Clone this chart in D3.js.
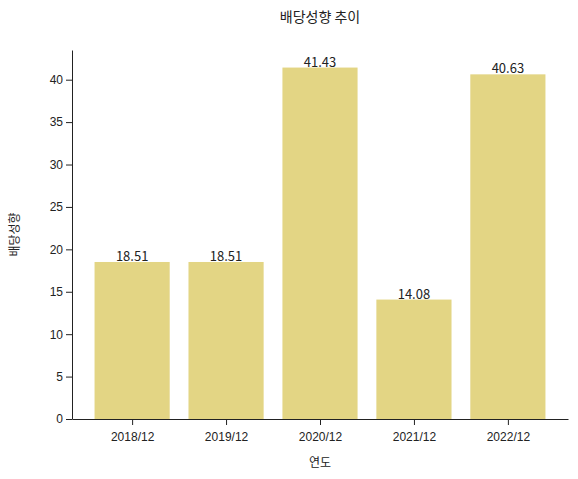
<!DOCTYPE html>
<html>
<head>
  <meta charset="utf-8">
  <script src="https://d3js.org/d3.v7.min.js"></script>
  <style>
    body { margin: 0; background: #fff; }
    svg { display: block; font-family: "Noto Sans CJK KR", "Noto Sans", sans-serif; }
  </style>
</head>
<body>
  <svg width="578" height="479"></svg>
  <script>
    const years = ["2018/12", "2019/12", "2020/12", "2021/12", "2022/12"];
    const payout = [18.51, 18.51, 41.43, 14.08, 40.63];
    const yTicks = [0, 5, 10, 15, 20, 25, 30, 35, 40];

    const svg = d3.select("svg");
    const mLeft = 72, mRight = 568, mTop = 50, mBottom = 419;

    // matplotlib 스타일 위치: 막대 폭 0.8
    const x = d3.scaleLinear().domain([-0.64, 4.64]).range([mLeft, mRight]);
    const y = d3.scaleLinear().domain([0, 43.5]).range([mBottom, mTop]);
    const bw = x(0.8) - x(0);

    svg.append("g").selectAll("rect").data(payout).join("rect")
      .attr("x", (d, i) => x(i - 0.4))
      .attr("y", d => y(d))
      .attr("width", bw)
      .attr("height", d => mBottom - y(d))
      .attr("fill", "#e3d584");

    svg.append("g").selectAll("text").data(payout).join("text")
      .attr("x", (d, i) => x(i))
      .attr("y", d => y(d) - 1)
      .attr("text-anchor", "middle")
      .attr("font-size", 13)
      .attr("fill", "#222")
      .text(d => d.toFixed(2));

    const xAxis = svg.append("g")
      .attr("transform", `translate(0,${mBottom})`)
      .call(d3.axisBottom(x).tickValues(d3.range(years.length)).tickFormat(i => years[i]).tickSizeOuter(0));
    const yAxis = svg.append("g")
      .attr("transform", `translate(${mLeft},0)`)
      .call(d3.axisLeft(y).tickValues(yTicks).tickSizeOuter(0));
    [xAxis, yAxis].forEach(a => {
      a.selectAll("text").attr("font-size", 12).attr("fill", "#222").style("font-family", "inherit");
      a.selectAll("line").attr("stroke", "#222");
      a.select(".domain").attr("stroke", "#222");
    });
    xAxis.selectAll("text").attr("dy", "1.1em");

    svg.append("text").attr("x", 320).attr("y", 22).attr("text-anchor", "middle")
      .attr("font-size", 14).attr("fill", "#222").text("배당성향 추이");
    svg.append("text").attr("x", 320).attr("y", 467).attr("text-anchor", "middle")
      .attr("font-size", 12).attr("fill", "#222").text("연도");
    svg.append("text").attr("transform", `translate(19,${(mTop + mBottom) / 2}) rotate(-90)`)
      .attr("text-anchor", "middle").attr("font-size", 12).attr("fill", "#222").text("배당성향");
  </script>
</body>
</html>
